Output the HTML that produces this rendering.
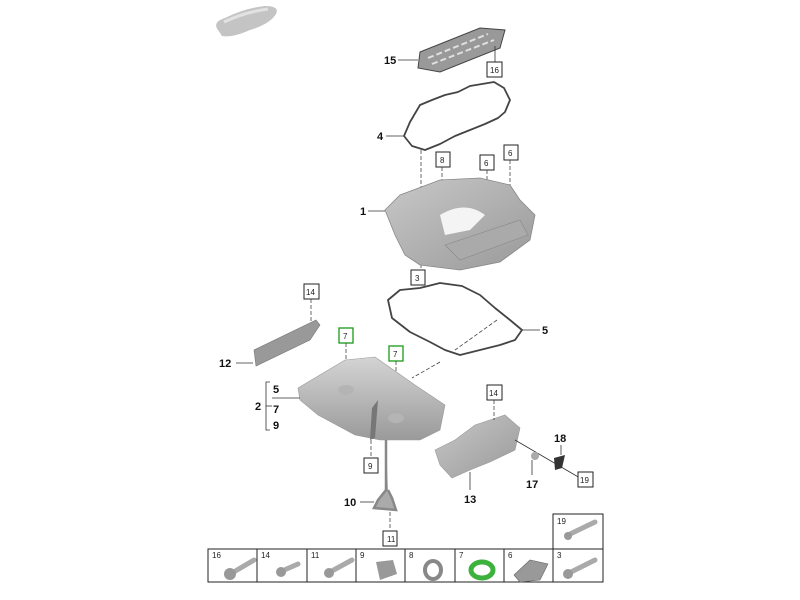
<!DOCTYPE html>
<html><head><meta charset="utf-8"><style>
html,body{margin:0;padding:0;background:#fff;}
svg{display:block;font-family:"Liberation Sans",Arial,sans-serif;}
.b{font-weight:bold;font-size:11px;fill:#111}
.s{font-size:8px;fill:#222}
.bx{fill:#fff;stroke:#222;stroke-width:1}
.gb{fill:#fff;stroke:#1a9a1a;stroke-width:1.3}
.ln{stroke:#333;stroke-width:0.8;fill:none}
.dl{stroke:#444;stroke-width:0.8;stroke-dasharray:4 2;fill:none}
.gk{fill:none;stroke:#444;stroke-width:1.8;stroke-linejoin:round}
</style></head><body>
<svg width="800" height="600" viewBox="0 0 800 600">
<defs>
<linearGradient id="g1" x1="0" y1="0" x2="0" y2="1"><stop offset="0" stop-color="#d4d4d4"/><stop offset="1" stop-color="#9a9a9a"/></linearGradient>
<linearGradient id="g2" x1="0" y1="0" x2="1" y2="1"><stop offset="0" stop-color="#c8c8c8"/><stop offset="1" stop-color="#999"/></linearGradient>
</defs>
<!-- car -->
<path d="M218,30 Q212,22 225,18 Q245,8 265,6 Q280,6 276,14 Q270,24 250,30 Q232,38 222,36 Z" fill="#c4c4c4"/>
<path d="M224,22 Q245,12 268,9" stroke="#e2e2e2" stroke-width="3" fill="none"/>

<!-- 15 -->
<path d="M420,52 L480,28 L505,30 L500,48 L440,72 L418,68 Z" fill="#999" stroke="#444" stroke-width="1"/>
<path d="M428,58 L488,34 M432,64 L494,40" stroke="#e0e0e0" stroke-width="2" stroke-dasharray="6 3" fill="none"/>
<text class="b" x="384" y="64">15</text><line class="ln" x1="398" y1="60" x2="418" y2="60"/>
<line class="ln" x1="495" y1="46" x2="495" y2="62"/>
<rect class="bx" x="487" y="62" width="15" height="15"/><text class="s" x="490" y="73">16</text>

<!-- gasket 4 -->
<path class="gk" d="M404,136 L410,122 L420,105 L432,100 L445,95 L458,92 L470,86 L482,84 L494,82 L504,88 L510,100 L505,112 L498,118 L485,124 L470,130 L455,136 L440,144 L425,150 L412,146 Z"/>
<text class="b" x="377" y="140">4</text><line class="ln" x1="386" y1="136" x2="404" y2="136"/>
<line class="dl" x1="421" y1="150" x2="421" y2="270"/>
<rect class="bx" x="436" y="152" width="14" height="15"/><text class="s" x="440" y="163">8</text>
<line class="dl" x1="442" y1="167" x2="442" y2="232"/>
<rect class="bx" x="480" y="155" width="14" height="15"/><text class="s" x="484" y="166">6</text>
<line class="dl" x1="487" y1="170" x2="487" y2="215"/>
<rect class="bx" x="504" y="145" width="14" height="15"/><text class="s" x="508" y="156">6</text>
<line class="dl" x1="510" y1="160" x2="510" y2="190"/>

<!-- part 1 -->
<path d="M385,210 L400,195 L440,180 L480,178 L510,185 L520,200 L535,215 L530,240 L500,262 L460,270 L420,265 L405,255 L395,235 Z" fill="url(#g2)" stroke="#888" stroke-width="0.8"/>
<path d="M440,215 Q465,200 485,215 L470,230 L445,235 Z" fill="#f4f4f4"/>
<path d="M445,245 L520,220 L528,235 L460,260 Z" fill="#aaa" stroke="#888" stroke-width="0.6"/>
<text class="b" x="360" y="215">1</text><line class="ln" x1="368" y1="211" x2="385" y2="211"/>
<rect class="bx" x="411" y="270" width="14" height="15"/><text class="s" x="415" y="281">3</text>

<!-- gasket 5 -->
<path class="gk" d="M388,300 L400,290 L420,288 L440,283 L462,286 L480,295 L495,308 L510,320 L522,330 L515,340 L500,345 L480,350 L460,355 L445,350 L430,342 L410,332 L392,318 Z"/>
<line class="ln" x1="522" y1="330" x2="540" y2="330"/><text class="b" x="542" y="334">5</text>
<line class="dl" x1="497" y1="320" x2="455" y2="350"/>
<line class="dl" x1="440" y1="362" x2="412" y2="378"/>

<!-- 14 / 12 -->
<rect class="bx" x="304" y="284" width="15" height="15"/><text class="s" x="306" y="295">14</text>
<line class="dl" x1="311" y1="299" x2="311" y2="322"/>
<path d="M254,350 L316,320 L320,325 L310,340 L256,366 Z" fill="#999" stroke="#777" stroke-width="0.6"/>
<text class="b" x="219" y="367">12</text><line class="ln" x1="236" y1="363" x2="253" y2="363"/>

<!-- 7 green boxes -->
<rect class="gb" x="339" y="328" width="14" height="15"/><text class="s" x="343" y="339">7</text>
<line class="dl" x1="346" y1="343" x2="346" y2="390"/>
<rect class="gb" x="389" y="346" width="14" height="15"/><text class="s" x="393" y="357">7</text>
<line class="dl" x1="396" y1="361" x2="396" y2="420"/>

<!-- part 2 -->
<path d="M298,388 L345,360 L375,357 L415,385 L445,405 L440,430 L420,440 L380,440 L355,435 L318,415 L300,400 Z" fill="url(#g1)" stroke="#999" stroke-width="0.6"/>
<ellipse cx="346" cy="390" rx="8" ry="5" fill="#b4b4b4"/>
<ellipse cx="396" cy="418" rx="8" ry="5" fill="#b4b4b4"/>
<path d="M372,408 L378,400 L375,438 L370,440 Z" fill="#777"/>
<path d="M270,382 L266,382 L266,430 L270,430" class="ln"/>
<text class="b" x="255" y="410">2</text><line class="ln" x1="266" y1="406" x2="272" y2="406"/>
<line class="ln" x1="272" y1="398" x2="300" y2="398"/>
<text class="b" x="273" y="393">5</text><text class="b" x="273" y="413">7</text><text class="b" x="273" y="429">9</text>

<rect class="bx" x="364" y="458" width="14" height="15"/><text class="s" x="368" y="469">9</text>
<line class="dl" x1="371" y1="440" x2="371" y2="458"/>
<!-- dipstick 10 -->
<path d="M386,440 L386,490 L378,500 L374,508 L396,510 L392,498 L388,490" stroke="#888" stroke-width="2.5" fill="#aaa"/>
<text class="b" x="344" y="506">10</text><line class="ln" x1="360" y1="502" x2="374" y2="502"/>
<line class="dl" x1="390" y1="512" x2="390" y2="530"/>
<rect class="bx" x="383" y="531" width="14" height="15"/><text class="s" x="387" y="542">11</text>

<!-- 13 heat shield -->
<path d="M435,450 L455,440 L475,425 L505,415 L520,428 L515,450 L490,462 L470,470 L452,478 L440,465 Z" fill="url(#g2)" stroke="#999" stroke-width="0.6"/>
<rect class="bx" x="487" y="385" width="15" height="15"/><text class="s" x="489" y="396">14</text>
<line class="dl" x1="494" y1="400" x2="494" y2="420"/>
<line class="ln" x1="470" y1="472" x2="470" y2="490"/><text class="b" x="464" y="503">13</text>
<line class="ln" x1="515" y1="440" x2="580" y2="478"/>
<circle cx="535" cy="456" r="4" fill="#aaa"/>
<line class="ln" x1="532" y1="460" x2="532" y2="475"/><text class="b" x="526" y="488">17</text>
<path d="M554,458 L565,455 L562,468 L555,470 Z" fill="#333"/>
<text class="b" x="554" y="442">18</text><line class="ln" x1="561" y1="445" x2="561" y2="455"/>
<rect class="bx" x="578" y="472" width="15" height="15"/><text class="s" x="580" y="483">19</text>

<!-- bottom table -->
<rect x="553" y="514" width="50" height="35" fill="#fff" stroke="#222"/>
<text class="s" x="557" y="524">19</text>
<path d="M568,535 L595,522" stroke="#aaa" stroke-width="5" stroke-linecap="round"/><circle cx="568" cy="536" r="4" fill="#999"/>
<rect x="208" y="549" width="395" height="33" fill="#fff" stroke="#222"/>
<g stroke="#222"><line x1="257" y1="549" x2="257" y2="582"/><line x1="307" y1="549" x2="307" y2="582"/><line x1="356" y1="549" x2="356" y2="582"/><line x1="405" y1="549" x2="405" y2="582"/><line x1="455" y1="549" x2="455" y2="582"/><line x1="504" y1="549" x2="504" y2="582"/><line x1="553" y1="549" x2="553" y2="582"/></g>
<g class="s"><text x="212" y="558">16</text><text x="261" y="558">14</text><text x="311" y="558">11</text><text x="360" y="558">9</text><text x="409" y="558">8</text><text x="459" y="558">7</text><text x="508" y="558">6</text><text x="557" y="558">3</text></g>
<g stroke="#aaa" stroke-linecap="round">
<path d="M232,573 L254,560" stroke-width="5"/><path d="M282,571 L298,564" stroke-width="5"/><path d="M330,572 L352,560" stroke-width="5"/><path d="M569,573 L595,560" stroke-width="5"/>
</g>
<g fill="#999"><circle cx="230" cy="574" r="6"/><circle cx="281" cy="572" r="5"/><circle cx="329" cy="573" r="5"/><circle cx="568" cy="574" r="5"/></g>
<path d="M376,562 L393,560 L397,574 L380,580 Z" fill="#999"/>
<ellipse cx="433" cy="570" rx="8" ry="9" fill="none" stroke="#888" stroke-width="4"/>
<ellipse cx="482" cy="570" rx="11" ry="8" fill="none" stroke="#3cb13c" stroke-width="5"/>
<path d="M514,575 L530,560 L548,564 L540,580 L520,582 Z" fill="#999" stroke="#666" stroke-width="0.6"/>
</svg>
</body></html>
